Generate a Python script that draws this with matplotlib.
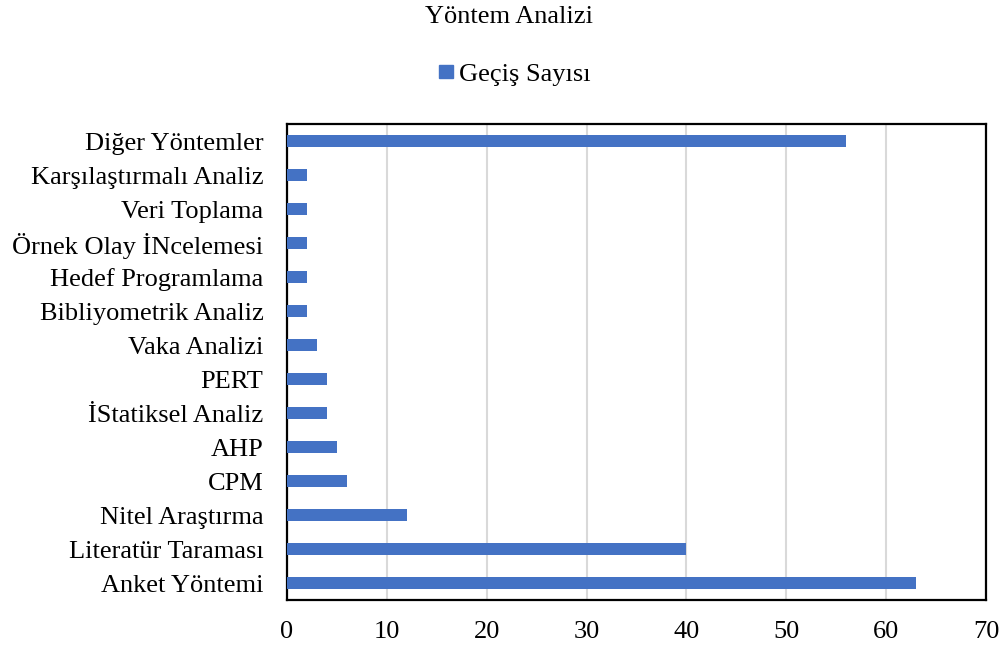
import matplotlib.pyplot as plt
from matplotlib.patches import Patch

# Data
methods = ['Anket Yöntemi', 'Literatür Taraması', 'Nitel Araştırma', 'CPM', 'AHP',
           'İStatiksel Analiz', 'PERT', 'Vaka Analizi', 'Bibliyometrik Analiz',
           'Hedef Programlama', 'Örnek Olay İNcelemesi', 'Veri Toplama',
           'Karşılaştırmalı Analiz', 'Diğer Yöntemler']
counts = [63, 40, 12, 6, 5, 4, 4, 3, 2, 2, 2, 2, 2, 56]
xticks = [0, 10, 20, 30, 40, 50, 60, 70]

plt.rcParams['font.family'] = ['Liberation Serif', 'DejaVu Serif']
bar_color = '#4472C4'

fig = plt.figure(figsize=(10.05, 6.46), dpi=100)
ax = fig.add_axes([0.2856, 0.0712, 0.6955, 0.7368])

ax.barh(range(len(methods)), counts, height=0.36, color=bar_color, zorder=3)
ax.set_yticks(range(len(methods)))
ax.set_yticklabels(methods, fontsize=19)
ax.set_ylim(-0.5, len(methods) - 0.5)
ax.set_xlim(0, 70)
ax.set_xticks(xticks)
ax.set_xticklabels([str(t) for t in xticks], fontsize=19)
ax.tick_params(axis='y', length=0, pad=17)
ax.tick_params(axis='x', length=0, pad=15)
ax.xaxis.grid(True, color='#d9d9d9', linewidth=1.5, zorder=0)
for s in ax.spines.values():
    s.set_linewidth(1.6)
    s.set_color('black')

fig.text(0.5065, 0.973, 'Yöntem Analizi', ha='center', va='center', fontsize=19)
fig.legend(handles=[Patch(color=bar_color, label='Geçiş Sayısı')],
           loc='center', bbox_to_anchor=(0.512, 0.884), frameon=False,
           fontsize=19, handlelength=0.52, handleheight=0.36, handletextpad=0.22)

fig.savefig('out.png', dpi=100)
